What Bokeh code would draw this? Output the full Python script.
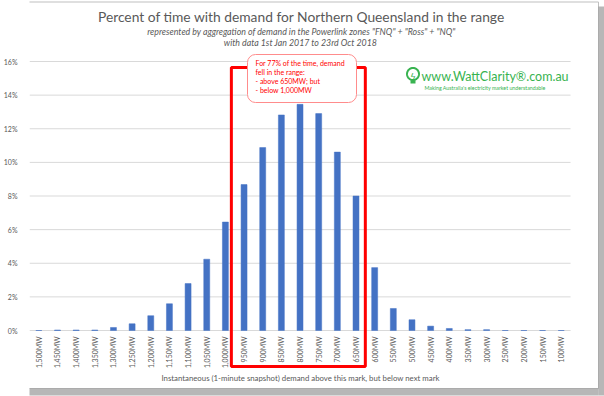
from math import pi, cos, sin
from bokeh.plotting import figure
from bokeh.models import Range1d, FixedTicker, PrintfTickFormatter, BoxAnnotation, Label, PolyAnnotation
from bokeh.core.properties import value
from bokeh.embed import file_html
from bokeh.resources import INLINE

# ---------------- data ----------------
categories = ["1,500MW", "1,450MW", "1,400MW", "1,350MW", "1,300MW", "1,250MW",
              "1,200MW", "1,150MW", "1,100MW", "1,050MW", "1,000MW", "950MW",
              "900MW", "850MW", "800MW", "750MW", "700MW", "650MW", "600MW",
              "550MW", "500MW", "450MW", "400MW", "350MW", "300MW", "250MW",
              "200MW", "150MW", "100MW"]
share_pct = [0.0, 0.03, 0.03, 0.03, 0.18, 0.40, 0.88, 1.59, 2.79, 4.24, 6.45,
             8.68, 10.88, 12.82, 13.45, 12.90, 10.61, 8.00,
             3.74, 1.31, 0.64, 0.26, 0.12, 0.05, 0.05, 0.0, 0.0, 0.0, 0.0]
y_ticks = [0, 2, 4, 6, 8, 10, 12, 14, 16]
highlight_from = "950MW"
highlight_to = "650MW"

title_text = "Percent of time with demand for Northern Queensland in the range"
subtitle_1 = 'represented by aggregation of demand in the Powerlink zones "FNQ" + "Ross" + "NQ"'
subtitle_2 = "with data 1st Jan 2017  to 23rd Oct 2018"
x_title = "Instantaneous (1-minute snapshot) demand above this mark, but below next mark"
callout_lines = ["For 77% of the time, demand", "fell in the range:",
                 "-  above 650MW; but", "-  below 1,000MW"]
logo_text = "www.WattClarity®.com.au"
logo_tag = "Making Australia's electricity market understandable"

# ---------------- style / layout ----------------
FONT = "Lato"
GREY = "#595959"
BLUE = "#4472c4"
GREEN = "#38b350"
W, H = 604, 396
FRAME_LEFT = 28                 # width of the y-axis panel
PX0, PX1 = 28, 570              # plot-area horizontal extent (px)
PY16, PY0 = 61, 330             # pixel rows of 16% and 0%
n = len(categories)
CW = (PX1 - PX0) / n            # px per category
PPU = (PY0 - PY16) / 16.0       # px per percent

xs = list(range(n))
x_range = Range1d(-0.5 - (PX0 - FRAME_LEFT) / CW, -0.5 + (W - PX0) / CW)
y_range = Range1d(-(H - PY0) / PPU, 16 + PY16 / PPU)

p = figure(width=W, height=H, output_backend="svg", toolbar_location=None,
           x_range=x_range, y_range=y_range, x_axis_location=None,
           min_border_left=FRAME_LEFT, min_border_right=0,
           min_border_top=0, min_border_bottom=0)
p.outline_line_color = None
p.background_fill_color = "white"
p.border_fill_color = "white"
p.xgrid.grid_line_color = None
p.ygrid.grid_line_color = None

# y axis
p.yaxis.ticker = FixedTicker(ticks=y_ticks)
p.yaxis.formatter = PrintfTickFormatter(format="%d%%")
p.yaxis.axis_line_color = None
p.yaxis.major_tick_line_color = None
p.yaxis.minor_tick_line_color = None
p.yaxis.major_label_standoff = 6
p.yaxis.major_label_text_font = FONT
p.yaxis.major_label_text_font_size = "7px"
p.yaxis.major_label_text_color = GREY

# gridlines across the category band only
p.segment(x0=-0.5, x1=n - 0.5, y0=y_ticks, y1=y_ticks, line_color="#d9d9d9", line_width=1)

# bars
p.vbar(x=xs, top=share_pct, width=0.32, fill_color=BLUE, line_color=BLUE, line_width=0.5)

# category labels (rotated)
p.text(x=xs, y=[(PY0 - 336) / PPU] * n, text=categories, angle=pi / 2,
       text_align="right", text_baseline="middle", text_font=value(FONT),
       text_font_size=value("7px"), text_color=GREY)

# helpers: reference pixel -> frame screen units
def sx(rx):
    return rx - FRAME_LEFT

def sy(ry):
    return H - ry

def add_label(text, rx, ry, size, color=GREY, align="center", style="normal"):
    p.add_layout(Label(x=sx(rx), y=sy(ry), x_units="screen", y_units="screen",
                       text=text, text_font=FONT, text_font_size=size,
                       text_color=color, text_align=align,
                       text_baseline="middle", text_font_style=style))

# image frame + shadow
p.add_layout(BoxAnnotation(left=sx(597), right=sx(603), top=sy(6), bottom=sy(395),
                           left_units="screen", right_units="screen",
                           top_units="screen", bottom_units="screen",
                           fill_color="#6f6f6f", fill_alpha=0.5, line_alpha=0))
p.add_layout(BoxAnnotation(left=sx(20), right=sx(597), top=sy(388), bottom=sy(395),
                           left_units="screen", right_units="screen",
                           top_units="screen", bottom_units="screen",
                           fill_color="#6f6f6f", fill_alpha=0.5, line_alpha=0))
p.add_layout(BoxAnnotation(left=sx(20), right=sx(597), top=sy(1.5), bottom=sy(388),
                           left_units="screen", right_units="screen",
                           top_units="screen", bottom_units="screen",
                           fill_color="white", fill_alpha=1,
                           line_color="#bfbfbf", line_width=1, line_alpha=1,
                           level="underlay"))

# titles
add_label(title_text, 300, 16, "13.8px")
add_label(subtitle_1, 300, 31, "8.8px", style="italic")
add_label(subtitle_2, 300, 42, "8.8px", style="italic")
add_label(x_title, 299, 377, "7.8px")

# highlight rectangle around the 650-1,000MW bars
i0 = categories.index(highlight_from)
i1 = categories.index(highlight_to)
p.add_layout(BoxAnnotation(left=i0 - 0.68, right=i1 + 0.5, top=sy(67), bottom=sy(366),
                           top_units="screen", bottom_units="screen",
                           fill_alpha=0, line_color="#ff0000", line_alpha=1, line_width=3))

# callout box
p.add_layout(BoxAnnotation(left=sx(246), right=sx(355), top=sy(54), bottom=sy(102),
                           left_units="screen", right_units="screen",
                           top_units="screen", bottom_units="screen",
                           fill_color="white", fill_alpha=1,
                           line_color="#ff8c8c", line_alpha=1, line_width=1,
                           border_radius=8))
for k, line in enumerate(callout_lines):
    add_label(line, 254, 62.3 + 8.9 * k, "7px", color="#ff0000", align="left")

# logo
ang = [2 * pi * k / 40 for k in range(40)]
p.add_layout(PolyAnnotation(xs=[sx(411.5) + 6 * cos(a) for a in ang],
                            ys=[sy(73.5) + 6 * sin(a) for a in ang],
                            xs_units="screen", ys_units="screen",
                            fill_alpha=0, line_color=GREEN, line_alpha=1, line_width=2))
p.add_layout(BoxAnnotation(left=sx(409), right=sx(414), top=sy(80), bottom=sy(83),
                           left_units="screen", right_units="screen",
                           top_units="screen", bottom_units="screen",
                           fill_color=GREEN, fill_alpha=1, line_alpha=0))
add_label("ϟ", 411.5, 73.5, "9px", color=GREEN)
add_label(logo_text, 420, 75.5, "12.5px", color=GREEN, align="left")
add_label(logo_tag, 423, 87.3, "5.3px", color=GREEN, align="left")

open("out.html", "w").write(file_html(p, INLINE))
